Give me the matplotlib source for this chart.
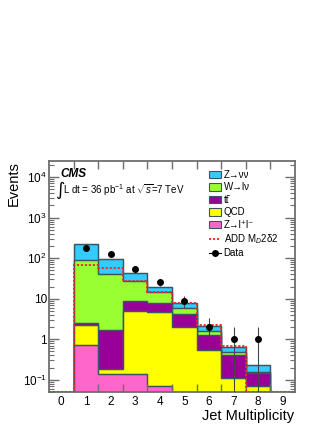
"""
CMS monojet - jet multiplicity
"""

import numpy as np
import matplotlib.pyplot as plt
from matplotlib.patches import Patch
from matplotlib.lines import Line2D

plt.rcParams['font.family'] = ['Liberation Sans', 'DejaVu Sans']
plt.rcParams['mathtext.fontset'] = 'custom'
plt.rcParams['mathtext.rm'] = 'Liberation Sans'
plt.rcParams['mathtext.it'] = 'Liberation Sans:italic'

# 数据 (bins 0..9)
njet = np.arange(10)
z_ll = [0, 0.73, 0.138, 0.138, 0.07, 0, 0, 0, 0, 0]
qcd = [0, 1.52, 0.05, 4.96, 4.63, 2.0, 0.53, 0.11, 0.072, 0]
ttbar = [0, 0.25, 1.53, 3.7, 3.2, 2.3, 0.76, 0.31, 0.074, 0]
w_lnu = [0, 85.5, 39.3, 18.2, 6.7, 1.6, 0.27, 0.06, 0.009, 0]
z_nunu = [0, 130, 56, 16, 5.4, 2.0, 0.51, 0.18, 0.08, 0]
add_signal = [0, 69, 58, 27, 14.6, 7.8, 2.19, 0.70, 0, 0]
data_x = [1, 2, 3, 4, 5, 6, 7, 8]
data_y = [178, 127, 53, 26, 9, 2, 1, 1]

edges = np.arange(-0.5, 10.0, 1.0)
ymin, ymax = 0.05, 2.5e4

names = ['Z→νν', 'W→lν', 'tt\u0304', 'QCD', 'Z→l\u207al\u207b']
colors = ['#33ccff', '#99ff33', '#990099', '#ffff00', '#ff66cc']
comps = [z_ll, qcd, ttbar, w_lnu, z_nunu]

fig = plt.figure(figsize=(3.32, 4.29), dpi=100)
ax = fig.add_axes([49/332, 1-392/429, 246/332, 231/429])
ax.set_yscale('log', nonpositive='clip')

# 堆叠: 从总和开始画
cum = np.cumsum(np.array(comps), axis=0)
stack_cols = ['#ff66cc', '#ffff00', '#990099', '#99ff33', '#33ccff']
for i in range(len(comps) - 1, -1, -1):
    ax.stairs(cum[i], edges, baseline=1e-4, fill=True,
              facecolor=stack_cols[i], edgecolor='#3b5563', linewidth=0.9)
    ax.stairs(cum[i], edges, baseline=1e-4, fill=False,
              color='#3b5563', linewidth=0.9)

ax.stairs(np.maximum(add_signal, ymin*1.02), edges, baseline=None,
          color='#ff2020', linestyle=(0, (1.2, 1.0)), linewidth=1.3, zorder=4)

yerr = np.sqrt(data_y)
ax.errorbar(data_x, data_y, yerr=yerr, fmt='o', color='black', ms=4,
            ecolor='#444444', elinewidth=0.8, capsize=0, zorder=5)

ax.set_xlim(-0.5, 9.5)
ax.set_ylim(ymin, ymax)

# 坐标轴样式 (ROOT风格)
gray = '#6e6e6e'
for s in ax.spines.values():
    s.set_color(gray)
    s.set_linewidth(1.3)
ax.set_xticks(edges[1:-1])
ax.set_xticklabels([])
ax.set_xticks(njet, minor=True)
ax.set_xticklabels([str(n) for n in njet], minor=True, fontsize=8.5)
ax.tick_params(axis='x', which='major', direction='in', length=6, width=1,
               color=gray, top=True, bottom=True)
ax.tick_params(axis='x', which='minor', length=0, pad=3)
ax.set_yticks([0.1, 1, 10, 100, 1000, 10000])
ax.set_yticklabels([r'$10^{-1}$', '1', '10', r'$10^{2}$', r'$10^{3}$', r'$10^{4}$'],
                   fontsize=8.5)
ax.tick_params(axis='y', which='major', direction='in', length=7, width=1,
               color=gray, right=True, left=True, pad=1.5)
ax.tick_params(axis='y', which='minor', direction='in', length=3.5, width=0.8,
               color=gray, right=True, left=True)

fig.text(14/332, 1-161/429, 'Events', rotation=90, ha='center', va='top', fontsize=10.5)
fig.text(294/332, 1-423/429, 'Jet Multiplicity', ha='right', va='bottom', fontsize=10.5)

fig.text(60/332, 1-180/429, 'CMS', fontsize=8.5,
         fontweight='bold', fontstyle='italic', va='bottom')
fig.text(55/332, 1-190/429, '∫', family=['DejaVu Sans'], fontsize=13, va='center')
fig.text(63/332, 1-190/429, r'L dt = 36 pb$^{-1}$ at $\sqrt{s}$=7 TeV',
         fontsize=7, va='center')

handles = [Patch(facecolor=c, edgecolor='#3b5563', linewidth=0.8) for c in colors]
handles.append(Line2D([], [], color='#ff2020', linestyle=(0, (1.2, 1.0)), linewidth=1.3))
handles.append(Line2D([], [], color='black', marker='o', ms=4, linewidth=0.8))
labels = names + [r'ADD M$_{D}$2δ2', 'Data']
ax.legend(handles, labels, loc='upper left', bbox_to_anchor=(209/332, 1-170/429),
          bbox_transform=fig.transFigure, frameon=False, fontsize=7,
          handlelength=1.25, handleheight=0.8, handletextpad=0.25,
          labelspacing=0.25, borderpad=0, borderaxespad=0)

plt.savefig('out.png', dpi=100)
